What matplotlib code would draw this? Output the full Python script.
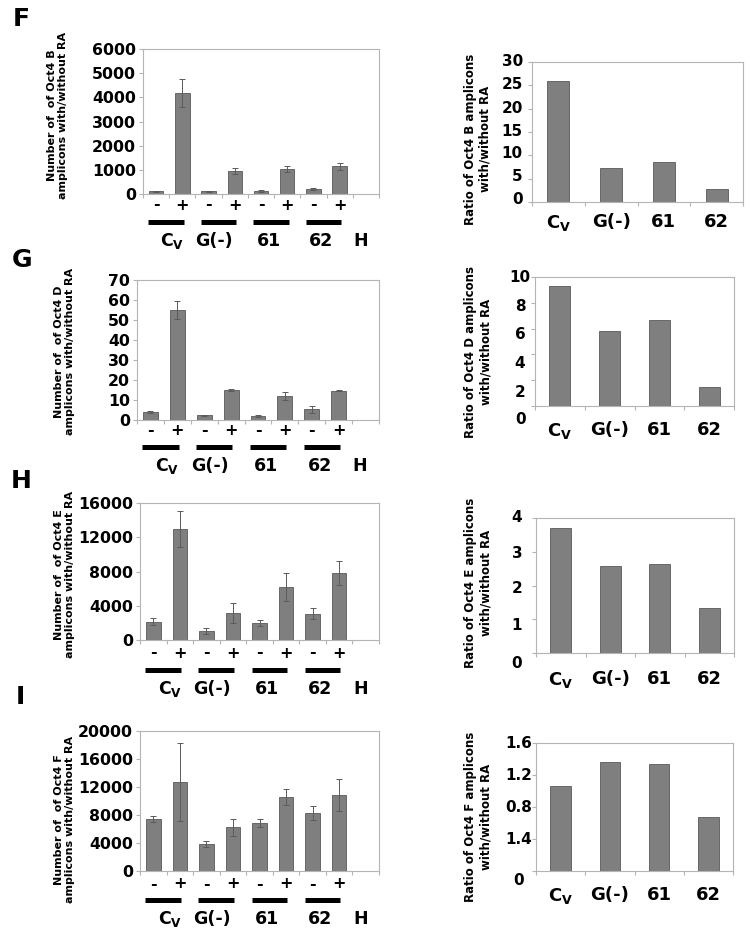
import matplotlib
matplotlib.use('Agg')
import matplotlib.pyplot as plt
import matplotlib.transforms as mtransforms
from matplotlib.lines import Line2D

plt.rcParams['font.family'] = ['DejaVu Sans']
plt.rcParams['font.weight'] = 'bold'
plt.rcParams['mathtext.fontset'] = 'dejavusans'

# ---------------- data ----------------
group_labels = [r'$\mathbf{C}_{\mathbf{V}}$', 'G(-)', '61', '62']
control_label = 'H'
sign_labels = ['-', '+', '-', '+', '-', '+', '-', '+', '']

# Oct4 B
B_minus = [110, 110, 110, 210]
B_minus_err = [15, 10, 40, 40]
B_plus = [4180, 940, 1040, 1140]
B_plus_err = [590, 125, 130, 160]
B_ratio = [26.0, 7.3, 8.6, 2.8]

# Oct4 D
D_minus = [4.0, 2.3, 2.0, 5.3]
D_minus_err = [0.3, 0.3, 0.3, 1.6]
D_plus = [55.0, 14.9, 11.9, 14.7]
D_plus_err = [4.5, 0.4, 2.0, 0.3]
D_ratio = [9.28, 5.82, 6.65, 1.49]

# Oct4 E
E_minus = [2150, 1010, 1990, 3080]
E_minus_err = [390, 350, 320, 650]
E_plus = [12950, 3160, 6170, 7840]
E_plus_err = [2100, 1190, 1600, 1440]
E_ratio = [3.71, 2.57, 2.63, 1.34]

# Oct4 F
F_minus = [7380, 3860, 6810, 8330]
F_minus_err = [450, 380, 550, 1020]
F_plus = [12710, 6240, 10620, 10860]
F_plus_err = [5550, 1260, 1120, 2260]
F_ratio = [1.064, 1.365, 1.34, 0.67]

# ---------------- style ----------------
W, H = 750, 939
BAR = '#7f7f7f'
EDGE = '#595959'
SPINE = '#b4b4b4'
ERR = '#5a5a5a'

fig = plt.figure(figsize=(7.5, 9.39), dpi=100)


def rect_px(x0, x1, y0, y1):
    return [x0 / W, 1 - y1 / H, (x1 - x0) / W, (y1 - y0) / H]


def style_spines(ax):
    for s in ax.spines.values():
        s.set_color(SPINE)
        s.set_linewidth(0.8)


def interleave(a, b):
    out = []
    for u, v in zip(a, b):
        out += [u, v]
    return out


def left_panel(rect, minus, plus, minus_err, plus_err, ylim, yticks, ylabel,
               ylab_xy, y_sign, y_line, y_group, letter, letter_xy):
    ax = fig.add_axes(rect_px(*rect))
    vals = interleave(minus, plus)
    errs = interleave(minus_err, plus_err)
    xs = list(range(len(vals)))
    ax.bar(xs, vals, width=0.55, color=BAR, edgecolor=EDGE, linewidth=0.6, zorder=2)
    ax.errorbar(xs, vals, yerr=errs, fmt='none', ecolor=ERR, elinewidth=0.7,
                capsize=2.5, capthick=0.7, zorder=3)
    nslots = len(sign_labels)
    ax.set_xlim(-0.5, nslots - 0.5)
    ax.set_ylim(*ylim)
    ax.set_xticks([i - 0.5 for i in range(nslots + 1)])
    ax.set_xticklabels([])
    ax.set_yticks(yticks)
    ax.set_yticklabels([str(t) for t in yticks])
    ax.tick_params(axis='x', length=3, color=SPINE, width=0.8)
    ax.tick_params(axis='y', length=3, color=SPINE, width=0.8, labelsize=11.3, pad=2)
    style_spines(ax)
    ax.set_ylabel(ylabel, fontsize=8, linespacing=1.1, fontweight='bold')
    ax.yaxis.set_label_coords(*ylab_xy)

    tr = mtransforms.blended_transform_factory(ax.transData, fig.transFigure)
    for i, s in enumerate(sign_labels):
        if s:
            ax.text(i, 1 - y_sign / H, s, transform=tr, ha='center', va='center',
                    fontsize=11.5, fontweight='bold')
    for g in range(len(group_labels)):
        ax.add_line(Line2D([2 * g - 0.3, 2 * g + 1.05], [1 - y_line / H] * 2,
                           transform=tr, color='black', lw=3.6, clip_on=False,
                           solid_capstyle='butt'))
    gx = [0.62, 2.22, 4.29, 6.29, 7.8]
    for x, lab in zip(gx, group_labels + [control_label]):
        ax.text(x, 1 - y_group / H, lab, transform=tr, ha='center', va='center',
                fontsize=12.5, fontweight='bold')
    fig.text(letter_xy[0] / W, 1 - letter_xy[1] / H, letter, fontsize=18,
             fontweight='bold', ha='center', va='center')
    return ax


def right_panel(rect, ratios, ylim, tick_vals, tick_labels, label_pos, label_x,
                label_ha, ylabel, ylab_xy, xpad):
    ax = fig.add_axes(rect_px(*rect))
    xs = list(range(len(ratios)))
    ax.bar(xs, ratios, width=0.42, color=BAR, edgecolor=EDGE, linewidth=0.6, zorder=2)
    ax.set_xlim(-0.5, len(ratios) - 0.5)
    ax.set_ylim(*ylim)
    ax.set_xticks(xs)
    ax.set_xticklabels(group_labels, fontsize=13, fontweight='bold')
    ax.set_xticks([i - 0.5 for i in range(len(ratios) + 1)], minor=True)
    ax.tick_params(axis='x', which='major', length=0, pad=xpad)
    ax.tick_params(axis='x', which='minor', length=3, color=SPINE, width=0.8)
    ax.set_yticks(tick_vals)
    ax.set_yticklabels([])
    ax.tick_params(axis='y', length=3, color=SPINE, width=0.8)
    style_spines(ax)
    tr = ax.get_yaxis_transform()
    for lab, pos in zip(tick_labels, label_pos):
        ax.text(label_x, pos, lab, transform=tr, ha=label_ha, va='center',
                fontsize=11, fontweight='bold')
    ax.set_ylabel(ylabel, fontsize=8.5, fontweight='bold')
    ax.yaxis.set_label_coords(*ylab_xy)
    return ax


# ---- F (Oct4 B)
left_panel((143, 379, 49, 194), B_minus, B_plus, B_minus_err, B_plus_err,
           (0, 6000), [0, 1000, 2000, 3000, 4000, 5000, 6000],
           'Number of  of Oct4 B\namplicons with/without RA', (-0.318, 0.545),
           205, 222, 241, 'F', (21, 19))
right_panel((532, 743, 62, 202), B_ratio, (0, 30), [0, 5, 10, 15, 20, 25, 30],
            ['0', '5', '10', '15', '20', '25', '30'],
            [0.5, 5.4, 10.4, 15.2, 20, 25.1, 30], -0.043, 'right',
            'Ratio of Oct4 B amplicons\nwith/without RA', (-0.19, 0.45), 8)

# ---- G (Oct4 D)
left_panel((137, 379, 280, 420), D_minus, D_plus, D_minus_err, D_plus_err,
           (0, 70), [0, 10, 20, 30, 40, 50, 60, 70],
           'Number of  of Oct4 D\namplicons with/without RA', (-0.256, 0.49),
           431, 447, 466, 'G', (22, 260))
right_panel((535, 734, 277, 406), D_ratio, (0, 10), [0, 2, 4, 6, 8, 10],
            ['0', '2', '4', '6', '8', '10'],
            [-1.08, 1.03, 3.3, 5.54, 7.68, 9.95], -0.075, 'center',
            'Ratio of Oct4 D amplicons\nwith/without RA', (-0.216, 0.42), 11)

# ---- H (Oct4 E)
left_panel((140, 379, 503, 640), E_minus, E_plus, E_minus_err, E_plus_err,
           (0, 16000), [0, 4000, 8000, 12000, 16000],
           'Number of  of Oct4 E\namplicons with/without RA', (-0.272, 0.475),
           653, 670, 689, 'H', (21, 481))
right_panel((536, 734, 518, 653), E_ratio, (0, 4), [0, 1, 2, 3, 4],
            ['0', '1', '2', '3', '4'],
            [-0.30, 0.82, 1.91, 2.94, 4.0], -0.096, 'center',
            'Ratio of Oct4 E amplicons\nwith/without RA', (-0.222, 0.52), 12.5)

# ---- I (Oct4 F)
left_panel((140, 379, 731, 871), F_minus, F_plus, F_minus_err, F_plus_err,
           (0, 20000), [0, 4000, 8000, 12000, 16000, 20000],
           'Number of  of Oct4 F\namplicons with/without RA', (-0.272, 0.37),
           884, 900, 919, 'I', (20, 697))
right_panel((536, 733, 743, 871), F_ratio, (0, 1.6), [0, 0.4, 0.8, 1.2, 1.6],
            ['0', '1.4', '0.8', '1.2', '1.6'],
            [-0.117, 0.4, 0.8, 1.2, 1.6], -0.09, 'center',
            'Ratio of Oct4 F amplicons\nwith/without RA', (-0.222, 0.42), 10.5)

fig.savefig('out.png', dpi=100, facecolor='white')
